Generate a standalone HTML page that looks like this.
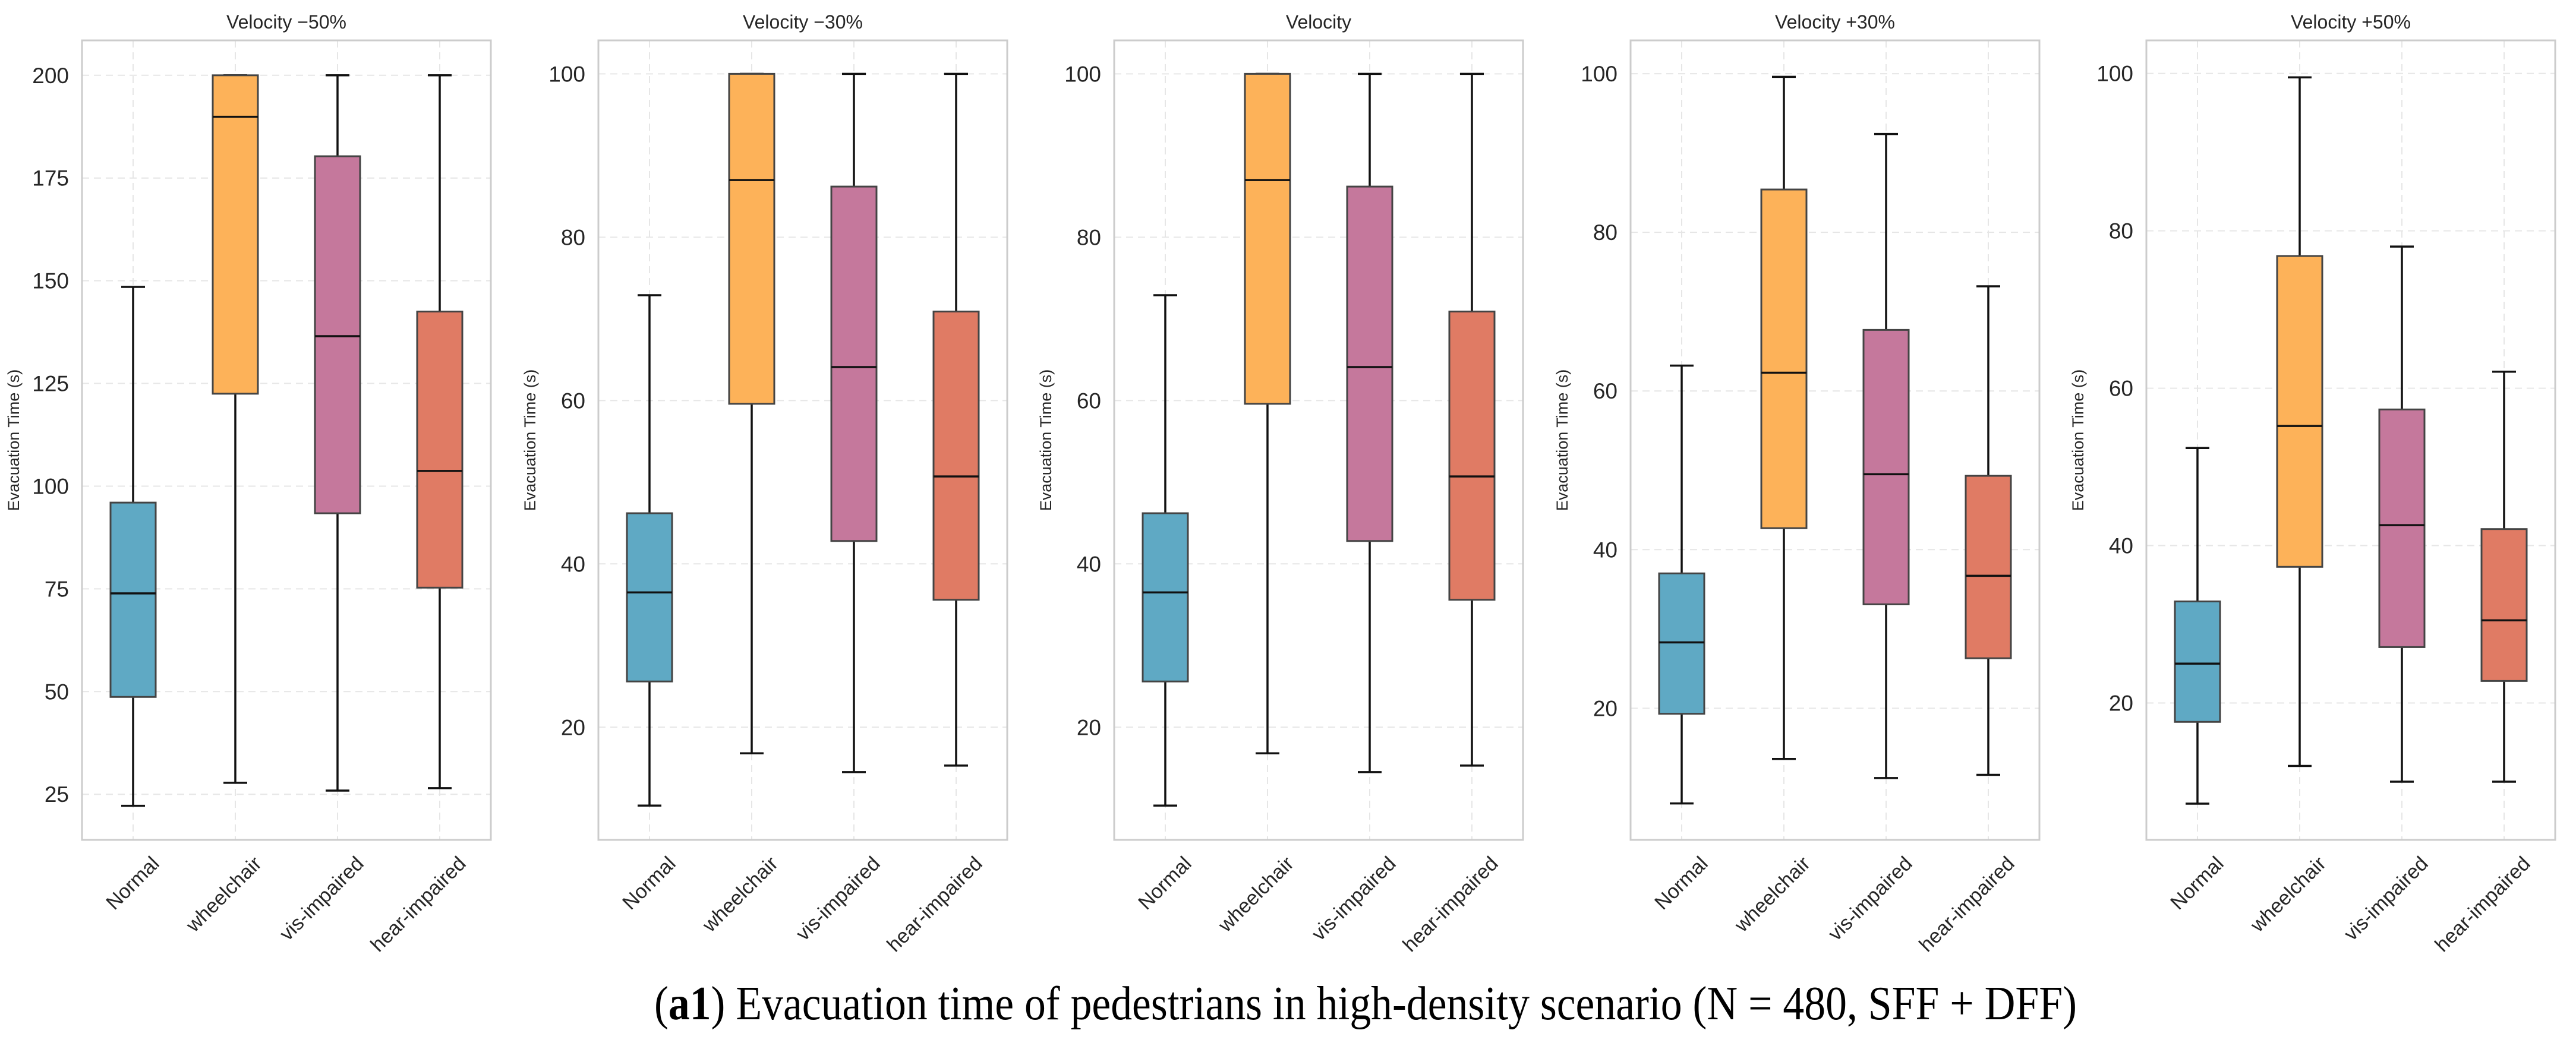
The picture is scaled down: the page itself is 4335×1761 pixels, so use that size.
<!DOCTYPE html>
<html><head><meta charset="utf-8"><style>
html,body{margin:0;padding:0;background:#fff;width:4335px;height:1761px;overflow:hidden}
svg{display:block}
</style></head><body>
<svg id="fig" width="4335" height="1761" viewBox="0 0 4335 1761" xmlns="http://www.w3.org/2000/svg"></svg>
<script>
const panelTitles = ["Velocity \u221250%", "Velocity \u221230%", "Velocity", "Velocity +30%", "Velocity +50%"];
const categories = ["Normal", "wheelchair", "vis-impaired", "hear-impaired"];
const whiskerLow = [[22.2,27.8,25.9,26.5],[10.4,16.8,14.5,15.3],[10.4,16.8,14.5,15.3],[8.0,13.6,11.2,11.6],[7.2,12.0,10.0,10.0]];
const q1Values = [[48.7,122.5,93.4,75.3],[25.6,59.6,42.8,35.6],[25.6,59.6,42.8,35.6],[19.3,42.7,33.1,26.3],[17.6,37.3,27.1,22.8]];
const medianValues = [[73.9,189.9,136.5,103.7],[36.5,87.0,64.1,50.7],[36.5,87.0,64.1,50.7],[28.3,62.3,49.5,36.7],[25.0,55.2,42.6,30.5]];
const q3Values = [[96.0,200,180.3,142.5],[46.2,100,86.2,70.9],[46.2,100,86.2,70.9],[37.0,85.4,67.7,49.3],[32.9,76.8,57.3,42.1]];
const whiskerHigh = [[148.5,200,200,200],[72.9,100,100,100],[72.9,100,100,100],[63.2,99.6,92.4,73.2],[52.4,99.5,78.0,62.1]];
const yTicks = [[25,50,75,100,125,150,175,200],[20,40,60,80,100],[20,40,60,80,100],[20,40,60,80,100],[20,40,60,80,100]];
const yLimLow = [13.9, 6.2, 6.2, 3.4, 2.6];
const yLimHigh = [208.5, 104.1, 104.1, 104.2, 104.2];
const colors = ["#5fa9c4","#fdb259","#c5789c","#e07b64"];

const NS = "http://www.w3.org/2000/svg";
const svg = document.getElementById("fig");
function mk(tag, attrs, parent){const e=document.createElementNS(NS,tag);for(const k in attrs)e.setAttribute(k,attrs[k]);(parent||svg).appendChild(e);return e;}

const panelLefts = [138,1007,1875,2744,3612];
const PW = 688, TOP = 68, BOT = 1414;

panelTitles.forEach((title, p) => {
  const L = panelLefts[p];
  const g = mk("g", {});
  
  
  const y = v => BOT - (v - yLimLow[p]) / (yLimHigh[p] - yLimLow[p]) * (BOT - TOP);
  const x = i => L + PW * (i + 0.5) / categories.length;
  // grid
  yTicks[p].forEach(t => {
    const gl = mk("line", {x1:L, x2:L+PW, y1:y(t), y2:y(t), stroke:"#e6e6e6", "stroke-width":2, "stroke-dasharray":"12,8"}, g);
    
    
    const tl = mk("text", {x:L-22, y:y(t)+13, "text-anchor":"end", "font-family":"Liberation Sans, sans-serif", "font-size":37, fill:"#262626"}, g);
    tl.textContent = t;
    
    
  });
  categories.forEach((c, i) => {
    const gl = mk("line", {x1:x(i), x2:x(i), y1:TOP, y2:BOT, stroke:"#e6e6e6", "stroke-width":2, "stroke-dasharray":"12,8"}, g);
    
    
  });
  // frame
  const fr = mk("rect", {x:L, y:TOP, width:PW, height:BOT-TOP, fill:"none", stroke:"#cccccc", "stroke-width":3}, g);
  
  
  // title
  const tt = mk("text", {x:L+PW/2, y:48, "text-anchor":"middle", "font-family":"Liberation Sans, sans-serif", "font-size":32, fill:"#262626"}, g);
  tt.textContent = title;
  
  
  // y label
  const ylx = L - 106, yly = (TOP+BOT)/2;
  const yl = mk("text", {x:ylx, y:yly, transform:`rotate(-90 ${ylx} ${yly})`, "text-anchor":"middle", "font-family":"Liberation Sans, sans-serif", "font-size":27, fill:"#262626"}, g);
  yl.textContent = "Evacuation Time (s)";
  
  
  // boxes
  const BW = 76, CW = 40;
  categories.forEach((c, i) => {
    const cx = x(i);
    const bg = mk("g", {}, g);
    
    
    mk("line", {x1:cx, x2:cx, y1:y(whiskerHigh[p][i]), y2:y(q3Values[p][i]), stroke:"#111", "stroke-width":3.5}, bg);
    mk("line", {x1:cx, x2:cx, y1:y(q1Values[p][i]), y2:y(whiskerLow[p][i]), stroke:"#111", "stroke-width":3.5}, bg);
    mk("line", {x1:cx-CW/2, x2:cx+CW/2, y1:y(whiskerHigh[p][i]), y2:y(whiskerHigh[p][i]), stroke:"#111", "stroke-width":3.5}, bg);
    mk("line", {x1:cx-CW/2, x2:cx+CW/2, y1:y(whiskerLow[p][i]), y2:y(whiskerLow[p][i]), stroke:"#111", "stroke-width":3.5}, bg);
    mk("rect", {x:cx-BW/2, y:y(q3Values[p][i]), width:BW, height:y(q1Values[p][i])-y(q3Values[p][i]), fill:colors[i], stroke:"#444", "stroke-width":3}, bg);
    mk("line", {x1:cx-BW/2, x2:cx+BW/2, y1:y(medianValues[p][i]), y2:y(medianValues[p][i]), stroke:"#111", "stroke-width":3.5}, bg);
    const ax = cx + 46, ay = 1456;
    const xl = mk("text", {x:ax, y:ay, transform:`rotate(-45 ${ax} ${ay})`, "text-anchor":"end", "font-family":"Liberation Sans, sans-serif", "font-size":34, fill:"#262626"}, g);
    xl.textContent = c;
    
    
  });
});
const cap = mk("text", {x:1101, y:1716, textLength:2394, lengthAdjust:"spacingAndGlyphs", "font-family":"Liberation Serif, serif", "font-size":80, fill:"#000"});
cap.innerHTML = '(<tspan font-weight="bold">a1</tspan>) Evacuation time of pedestrians in high-density scenario (N = 480, SFF + DFF)';


</script>
</body></html>
